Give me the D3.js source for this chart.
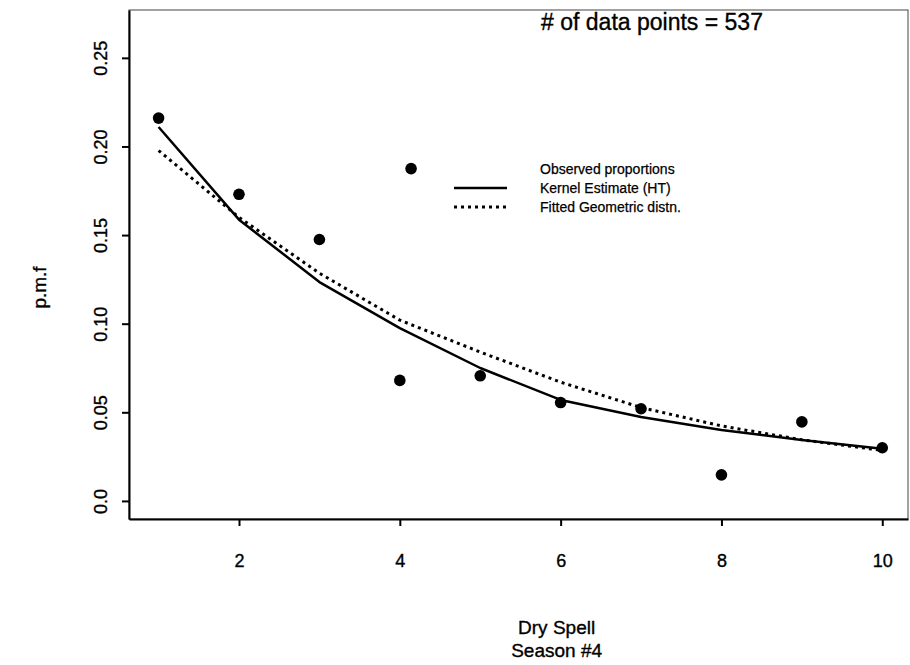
<!DOCTYPE html>
<meta charset="utf-8">
<head>
	<title>Dry spell pmf</title>
</head>

<style>
	body {
		margin: 0;
		background: #fff;
		font-family: "Liberation Sans", Arial, Helvetica, sans-serif;
	}
	text {
		stroke: #000;
		stroke-width: 0.35px;
	}
	.frame {
		fill: none;
		stroke: #444;
		stroke-width: 1px;
	}
	.axis path, .axis line {
		stroke: #000;
		stroke-width: 2px;
	}
	.axis text {
		font-size: 18px;
		fill: #000;
	}
	.line {
		fill: none;
		stroke: #000;
		stroke-linejoin: round;
	}
	.line.kernel {
		stroke-width: 2.5px;
	}
	.line.geom {
		stroke-width: 3px;
		stroke-dasharray: 3,4;
	}
</style>

<body>
	<svg width="910" height="665"></svg>

	<script src="https://cdn.jsdelivr.net/npm/d3@7"></script>

	<script>
		// observed proportions (the stray point near x=4.1 is in the picture too)
		var obsX = [1, 2, 3, 4.14, 4, 5, 6, 7, 8, 9, 10];
		var obsY = [0.216, 0.173, 0.1475, 0.1875, 0.068, 0.0706, 0.0555, 0.052, 0.0147, 0.0446, 0.030];

		var spell = [1, 2, 3, 4, 5, 6, 7, 8, 9, 10];
		var kernel = [0.211, 0.1587, 0.1235, 0.0975, 0.075, 0.057, 0.0474, 0.040, 0.0344, 0.0295];
		var geometric = [0.1977, 0.160, 0.1285, 0.102, 0.084, 0.067, 0.0527, 0.0423, 0.0345, 0.0285];

		var xTicks = [2, 4, 6, 8, 10];
		var yTicks = [0, 0.05, 0.10, 0.15, 0.20, 0.25];
		var yTickLabels = ["0.0", "0.05", "0.10", "0.15", "0.20", "0.25"];

		var legendLabels = ["Observed proportions", "Kernel Estimate (HT)", "Fitted Geometric distn."];

		var margin = {top: 10, right: 2, bottom: 146, left: 129},
				width = 910 - margin.left - margin.right,
				height = 665 - margin.top - margin.bottom;

		var svg = d3.select("svg")
			.append("g")
				.attr("transform", "translate(" + margin.left + "," + margin.top + ")");

		var x = d3.scaleLinear().domain([0.632, 10.32]).range([0, width]);
		var y = d3.scaleLinear().domain([-0.0102, 0.277]).range([height, 0]);

		// box
		svg.append("rect")
			.attr("class", "frame")
			.attr("width", width)
			.attr("height", height);

		// axes
		svg.append("g")
			.attr("class", "axis")
			.attr("transform", "translate(0," + height + ")")
			.call(d3.axisBottom(x).tickValues(xTicks).tickSize(7).tickSizeOuter(0).tickPadding(32))
			.selectAll("text")
				.attr("dy", "0.5em");

		svg.append("g")
			.attr("class", "axis")
			.call(d3.axisLeft(y).tickValues(yTicks).tickSize(7).tickSizeOuter(0)
				.tickFormat(function(d, i) { return yTickLabels[i]; }))
			.selectAll("text")
				.attr("transform", "rotate(-90)")
				.attr("x", 0)
				.attr("y", -22)
				.attr("dy", 0)
				.style("text-anchor", "middle");

		// lines
		var kernelData = spell.map(function(d, i) { return [d, kernel[i]]; });
		var geomData = spell.map(function(d, i) { return [d, geometric[i]]; });

		var line = d3.line()
			.x(function(d) { return x(d[0]); })
			.y(function(d) { return y(d[1]); });

		svg.append("path").datum(kernelData).attr("class", "kernel line").attr("d", line);
		svg.append("path").datum(geomData).attr("class", "geom line").attr("d", line);

		// points
		svg.selectAll(".dot")
			.data(obsX)
			.enter().append("circle")
				.attr("class", "dot")
				.attr("cx", function(d) { return x(d); })
				.attr("cy", function(d, i) { return y(obsY[i]); })
				.attr("r", 5.8)
				.attr("fill", "#000");

		// legend
		var lx = 325, ly = 159;
		legendLabels.forEach(function(t, i) {
			svg.append("text")
				.attr("x", lx + 86)
				.attr("y", ly + i * 19)
				.attr("dy", "0.35em")
				.style("font-size", "14px")
				.style("stroke-width", "0.25px")
				.text(t);
		});
		svg.append("line")
			.attr("x1", lx).attr("x2", lx + 53)
			.attr("y1", ly + 19).attr("y2", ly + 19)
			.attr("stroke", "#000").attr("stroke-width", 2.5);
		svg.append("line")
			.attr("x1", lx).attr("x2", lx + 53)
			.attr("y1", ly + 38).attr("y2", ly + 38)
			.attr("stroke", "#000").attr("stroke-width", 3)
			.attr("stroke-dasharray", "3,4");

		svg.append("text")
			.attr("x", 523)
			.attr("y", 20)
			.style("font-size", "23px")
			.style("text-anchor", "middle")
			.text("# of data points = 537");

		// axis titles
		svg.append("text")
			.attr("transform", "translate(-83," + (height / 2 + 23) + ") rotate(-90)")
			.style("font-size", "19px")
			.style("text-anchor", "middle")
			.text("p.m.f");

		svg.append("text")
			.attr("x", x(5.95))
			.attr("y", height + 115)
			.style("font-size", "19px")
			.style("text-anchor", "middle")
			.text("Dry Spell");

		svg.append("text")
			.attr("x", x(5.95))
			.attr("y", height + 138)
			.style("font-size", "19px")
			.style("text-anchor", "middle")
			.text("Season #4");
	</script>
</body>
</html>
